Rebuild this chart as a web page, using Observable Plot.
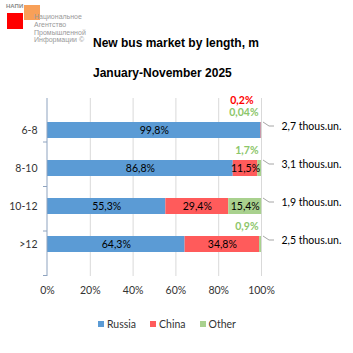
<!DOCTYPE html>
<html><head><meta charset="utf-8">
<script src="https://cdn.jsdelivr.net/npm/d3@7"></script>
<script src="https://cdn.jsdelivr.net/npm/@observablehq/plot@0.6"></script>
<style>
body{margin:0;background:#fff;}
#wrap{position:relative;width:353px;height:353px;font-family:Lato,"Open Sans",sans-serif;overflow:hidden;background:#fff}
#chart{position:absolute;left:0;top:0}
.title{position:absolute;left:93px;white-space:nowrap;font-family:"Liberation Sans",Arial,sans-serif;font-weight:bold;font-size:12px;color:#000}
#logo-red{position:absolute;left:7px;top:13px;width:16px;height:16px;background:#FF0000}
#logo-or{position:absolute;left:24px;top:5px;width:16px;height:15px;background:#F79646;opacity:0.9}
#logo-napi{position:absolute;left:6px;top:3px;font:bold 6px "Liberation Sans",sans-serif;color:#8a8a8a}
#logo-txt{position:absolute;left:34px;top:13px;font:7px/7.8px "Liberation Sans",sans-serif;color:#999}
#legend{position:absolute;top:318px;left:98px;display:flex;gap:14px;font-size:10.5px;color:#333;white-space:nowrap}
#legend span.sw{display:inline-block;width:6px;height:6px;margin-right:3px;vertical-align:middle;position:relative;top:-1px}
</style></head><body>
<div id="wrap">
  <div id="chart"></div>
  <div id="logo-napi">НАПИ</div>
  <div id="logo-red"></div>
  <div id="logo-or"></div>
  <div id="logo-txt">Национальное<br>Агентство<br>Промышленной<br>Информации ©</div>
  <div class="title" style="top:36px">New bus market by length, m</div>
  <div class="title" style="top:66px">January-November 2025</div>
  <div id="legend"></div>
</div>
<script>
const categories = ["6-8", "8-10", "10-12", ">12"];
const seriesNames = ["Russia", "China", "Other"];
const russia = [99.8, 86.8, 55.3, 64.3];
const china = [0.2, 11.5, 29.4, 34.8];
const other = [0.04, 1.7, 15.4, 0.9];
const totals = ["2,7 thous.un.", "3,1 thous.un.", "1,9 thous.un.", "2,5 thous.un."];
const xTicks = [0, 20, 40, 60, 80, 100];
const colors = ["#5B9BD5", "#FF5B5B", "#A9D18E"];
const outsideColors = {China: "#FF0000", Other: "#8CC66A"};

const valuesBySeries = [russia, china, other];
const rows = [];
categories.forEach((c, i) => {
  seriesNames.forEach((s, j) => rows.push({cat: c, series: s, value: valuesBySeries[j][i]}));
});
const fmt = v => String(v).replace(".", ",") + "%";
const inside = rows.filter(d => d.value >= 5);
const outsideOther = rows.filter(d => d.value < 5 && d.series === "Other");
const outsideChina = rows.filter(d => d.value < 5 && d.series === "China");
const totalRows = categories.map((c, i) => ({cat: c, total: totals[i], end: 100}));

function leaders(index, scales, values, dims) {
  const x = scales.x, y = scales.y;
  const bw = typeof y.bandwidth === "function" ? y.bandwidth() : 0;
  const g = d3.create("svg:g");
  const top = dims.marginTop, bottom = dims.height - dims.marginBottom;
  const x0 = x(0);
  g.append("line").attr("x1", x0).attr("x2", x0).attr("y1", top).attr("y2", bottom)
    .attr("stroke", "#8EA3BF").attr("stroke-width", 1);
  const step = (bottom - top) / categories.length;
  for (let k = 1; k <= categories.length; k++) {
    const yy = top + step * k - 0.5;
    g.append("line").attr("x1", x0 - 4).attr("x2", x0).attr("y1", yy).attr("y2", yy)
      .attr("stroke", "#8EA3BF");
  }
  totalRows.forEach(d => {
    const cy = y(d.cat) + bw / 2;
    const xe = x(d.end);
    g.append("path")
      .attr("d", `M${xe + 2},${cy - 8}L${xe + 8},${cy - 4}L${xe + 13},${cy - 4}`)
      .attr("fill", "none").attr("stroke", "#A6A6A6").attr("stroke-width", 1);
  });
  return g.node();
}

const plot = Plot.plot({
  width: 353,
  height: 300,
  marginTop: 98,
  marginBottom: 24,
  marginLeft: 47,
  marginRight: 92,
  style: {fontFamily: "Lato, 'Open Sans', sans-serif", fontSize: "10.5px", color: "#333", background: "transparent"},
  x: {domain: [0, 100], ticks: xTicks, tickFormat: d => d + "%", tickSize: 0, tickPadding: 10, label: null},
  y: {domain: categories, padding: 0.58, tickSize: 0, tickPadding: 10, label: null},
  color: {domain: seriesNames, range: colors},
  marks: [
    Plot.ruleX(xTicks.slice(1), {stroke: "#D9D9D9", strokeOpacity: 1}),
    Plot.barX(rows, Plot.stackX({x: "value", y: "cat", fill: "series", order: seriesNames})),
    Plot.text(inside, Plot.stackX({x: "value", y: "cat", z: "series", order: seriesNames, text: d => fmt(d.value), fill: "#000", fontSize: 10.5})),
    Plot.text(outsideOther, {x: 100, y: "cat", text: d => fmt(d.value), fill: outsideColors.Other, fontWeight: "bold", textAnchor: "end", dx: -3, dy: -17.5, fontSize: 10.5}),
    Plot.text(outsideChina, {x: 100, y: "cat", text: d => fmt(d.value), fill: outsideColors.China, fontWeight: "bold", textAnchor: "end", dx: -8, dy: -29.5, fontSize: 10.5}),
    Plot.text(totalRows, {x: "end", y: "cat", text: "total", textAnchor: "start", dx: 20, dy: -4, fill: "#000", fontSize: 10.5}),
    leaders
  ]
});
document.getElementById("chart").appendChild(plot);

const legend = document.getElementById("legend");
seriesNames.forEach((s, i) => {
  const item = document.createElement("div");
  item.innerHTML = `<span class="sw" style="background:${colors[i]}"></span>${s}`;
  legend.appendChild(item);
});
</script>
</body></html>
